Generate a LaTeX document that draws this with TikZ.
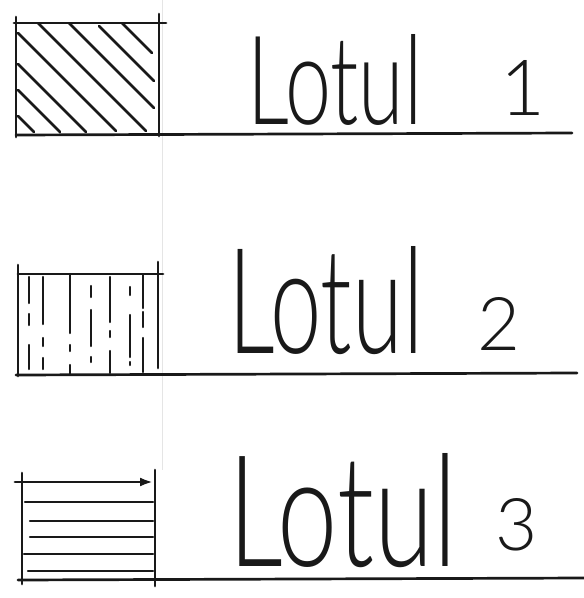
\documentclass[tikz,border=0pt]{standalone}
\usepackage{fontspec}
\usepackage{graphicx}
\usetikzlibrary{arrows.meta}
\IfFontExistsTF{Lato Light}{\newfontfamily\handfont{Lato Light}}{%
  \IfFontExistsTF{Lato Thin}{\newfontfamily\handfont{Lato Thin}[FakeBold=2]}{%
      \newfontfamily\handfont{Fira Sans}}}
\begin{document}
\begin{tikzpicture}[x=1pt,y=-1pt,
  ink/.style={line width=2.7pt, line cap=round, draw=black!90},
  thinink/.style={line width=2.5pt, line cap=round, draw=black!90},
  fold/.style={line width=0.8pt, draw=black!10},
  lotlabel/.style={inner sep=0pt, anchor=base west, text=black!90, font=\handfont}]
\useasboundingbox (0,0) rectangle (584,598);
\fill[white] (0,0) rectangle (584,598);
\draw[fold] (162,0) -- (162,470);

% ---------- Lot 1 : diagonal hatching ----------
\draw[ink] (16,17) -- (16,137);
\draw[ink] (14,23) -- (166,23);
\draw[ink] (159,14) -- (159,136);
\draw[ink] (16,135) -- (572,133);
\foreach \ax/\ay/\bx/\by in {122/23/152/53, 99/26/154/81, 69/23/154/108, 38/23/146/131,
                             18/33/116/131, 18/64/86/132, 18/90/60/132, 18/116/34/132}
  \draw[thinink] (\ax,\ay) -- (\bx,\by);
\node[lotlabel] (lot1) at (247,124)
  {\makebox[253pt][l]{\resizebox{175pt}{90pt}{Lotul}}\raisebox{9pt}{\resizebox{!}{55pt}{1}}};

% ---------- Lot 2 : vertical dashed strokes ----------
\draw[ink] (18,265) -- (18,376);
\draw[ink] (18,274) -- (163,274);
\draw[ink] (158,262) -- (158,368);
\draw[ink] (16,375) -- (577,373);
\foreach \cx/\ya/\yb in {29/277/303, 29/314/325, 29/345/369,
                         43/277/324, 43/338/346, 43/358/369,
                         70/274/333, 70/345/351, 70/365/374,
                         91/286/297, 91/310/346, 91/357/362,
                         110/277/322, 110/331/337, 110/351/373,
                         130/287/295, 130/315/357, 130/362/365,
                         143/275/308, 143/312/327, 143/338/372}
  \draw[thinink] (\cx,\ya) -- (\cx,\yb);
\node[lotlabel] (lot2) at (228,353)
  {\makebox[249pt][l]{\resizebox{195pt}{107pt}{Lotul}}\raisebox{3pt}{\resizebox{!}{53pt}{2}}};

% ---------- Lot 3 : horizontal strokes ----------
\draw[ink] (22,473) -- (22,584);
\draw[ink] (155,470) -- (155,586);
\draw[ink, -{Latex[length=13pt,width=9pt]}] (15,482) -- (153,482);
\foreach \xa/\yy in {25/502, 30/521, 30/537, 24/554, 28/571}
  \draw[thinink] (\xa,\yy) -- (153,\yy);
\draw[ink] (18,580) -- (584,578);
\node[lotlabel] (lot3) at (228,566)
  {\makebox[267pt][l]{\resizebox{229pt}{113pt}{Lotul}}\raisebox{16pt}{\resizebox{!}{52pt}{3}}};
\end{tikzpicture}
\end{document}
